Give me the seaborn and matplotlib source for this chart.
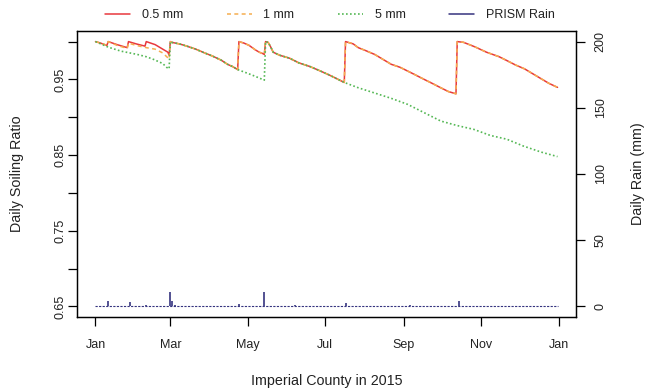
import matplotlib
matplotlib.use("Agg")
import matplotlib.pyplot as plt
import seaborn as sns
import numpy as np
import pandas as pd
from matplotlib.lines import Line2D

# ---------------- data (days since 2015-01-01) ----------------
days_05 = [0, 4, 9, 10, 17, 25, 26, 32, 39, 40, 47, 53, 57, 58,
           59, 60, 66, 72, 79, 86, 92, 99, 104, 108, 112,
           113, 117, 121, 126, 129, 132, 133,
           134, 136, 138, 140, 145, 153, 160, 169, 176, 184, 190, 196,
           197, 203, 207, 213, 220, 226, 233, 240, 246, 252, 259, 265, 272, 278, 284,
           285, 290, 299, 308, 318, 324, 331, 338, 344, 351, 357, 364]
ratio_05 = [1.000, 0.998, 0.995, 1.000, 0.996, 0.992, 1.000, 0.997, 0.994, 1.000, 0.996, 0.990, 0.986, 0.982,
            1.000, 0.999, 0.997, 0.994, 0.990, 0.985, 0.981, 0.9755, 0.970, 0.967, 0.963,
            1.000, 0.998, 0.995, 0.989, 0.986, 0.984, 0.983,
            1.000, 0.999, 0.993, 0.986, 0.982, 0.978, 0.972, 0.967, 0.962, 0.956, 0.951, 0.946,
            1.000, 0.997, 0.992, 0.988, 0.983, 0.977, 0.970, 0.966, 0.961, 0.956, 0.950, 0.945, 0.939, 0.934, 0.931,
            1.000, 0.999, 0.993, 0.986, 0.980, 0.975, 0.969, 0.964, 0.958, 0.951, 0.945, 0.9395]

days_1 = [0, 4, 9, 10, 17, 25, 26, 32, 40, 47, 53, 58,
          59, 60, 66, 72, 79, 86, 92, 99, 104, 108, 112,
          113, 117, 121, 126, 129, 132, 133,
          134, 136, 138, 140, 145, 153, 160, 169, 176, 184, 190, 196,
          197, 203, 207, 213, 220, 226, 233, 240, 246, 252, 259, 265, 272, 278, 284,
          285, 290, 299, 308, 318, 324, 331, 338, 344, 351, 357, 364]
ratio_1 = [1.000, 0.998, 0.995, 1.000, 0.995, 0.991, 0.998, 0.995, 0.992, 0.990, 0.985, 0.977,
           1.000, 0.999, 0.997, 0.994, 0.990, 0.985, 0.981, 0.9755, 0.970, 0.967, 0.963,
           1.000, 0.998, 0.995, 0.989, 0.986, 0.984, 0.983,
           1.000, 0.999, 0.993, 0.986, 0.982, 0.978, 0.972, 0.967, 0.962, 0.956, 0.951, 0.946,
           1.000, 0.997, 0.992, 0.988, 0.983, 0.977, 0.970, 0.966, 0.961, 0.956, 0.950, 0.945, 0.939, 0.934, 0.931,
           1.000, 0.999, 0.993, 0.986, 0.980, 0.975, 0.969, 0.964, 0.958, 0.951, 0.945, 0.9395]

days_5 = [0, 10, 20, 33, 40, 46, 53, 56, 58,
          59, 60, 66, 72, 79, 86, 92, 99, 104, 108, 112,
          120, 126, 133,
          134, 136, 138, 140, 145, 153, 160, 169, 176, 184, 190, 196,
          207, 220, 233, 246, 259, 272, 285, 298, 311, 324, 337, 351, 364]
ratio_5 = [1.000, 0.9927, 0.9874, 0.983, 0.980, 0.9763, 0.971, 0.966, 0.964,
           1.000, 0.999, 0.997, 0.994, 0.990, 0.985, 0.981, 0.9755, 0.970, 0.967, 0.963,
           0.958, 0.954, 0.949,
           1.000, 0.999, 0.993, 0.986, 0.982, 0.978, 0.972, 0.967, 0.962, 0.956, 0.951, 0.946,
           0.939, 0.932, 0.925, 0.917, 0.906, 0.895, 0.889, 0.884, 0.876, 0.871, 0.862, 0.854, 0.848]

rain_days = [10, 27, 40, 59, 60, 63, 113, 133, 157, 197, 248, 286]
rain_mm = [3.8, 3.0, 1.0, 10.6, 4.0, 1.0, 1.5, 10.6, 1.0, 2.5, 0.8, 3.8]

month_ticks = ["2015-01-01", "2015-03-01", "2015-05-01", "2015-07-01",
               "2015-09-01", "2015-11-01", "2016-01-01"]
month_labels = ["Jan", "Mar", "May", "Jul", "Sep", "Nov", "Jan"]
ratio_ticks = [0.65, 0.70, 0.75, 0.80, 0.85, 0.90, 0.95, 1.00]
ratio_labels = ["0.65", "", "0.75", "", "0.85", "", "0.95", ""]
rain_ticks = [0, 50, 100, 150, 200]

series_labels = ["0.5 mm", "1 mm", "5 mm", "PRISM Rain"]

# ---------------- style ----------------
sns.set_theme(style="ticks")
plt.rcParams["font.family"] = ["Liberation Sans", "DejaVu Sans"]
plt.rcParams["axes.edgecolor"] = "black"
plt.rcParams["axes.linewidth"] = 0.9

c_red = "#E8383D"
c_orange = "#F5AD4F"
c_green = "#55B855"
c_navy = "#35337F"

start = pd.Timestamp("2015-01-01")
def to_dates(d):
    return start + pd.to_timedelta(np.asarray(d), unit="D")

fig = plt.figure(figsize=(6.49, 3.9), dpi=100)
ax = fig.add_axes([77 / 649, 1 - 317 / 390, 499 / 649, 286 / 390])

df05 = pd.DataFrame({"date": to_dates(days_05), "ratio": ratio_05})
df1 = pd.DataFrame({"date": to_dates(days_1), "ratio": ratio_1})
df5 = pd.DataFrame({"date": to_dates(days_5), "ratio": ratio_5})

sns.lineplot(data=df05, x="date", y="ratio", ax=ax, color=c_red, lw=1.1,
             estimator=None, sort=False)
sns.lineplot(data=df1, x="date", y="ratio", ax=ax, color=c_orange, lw=1.1,
             linestyle=(0, (2.6, 2.2)), estimator=None, sort=False)
sns.lineplot(data=df5, x="date", y="ratio", ax=ax, color=c_green, lw=1.2,
             linestyle=(0, (1, 1.4)), estimator=None, sort=False)

ax.set_xlim(start - pd.Timedelta(days=14.56), start + pd.Timedelta(days=364 + 14.56))
ax.set_ylim(0.636, 1.014)
ax.set_xticks(pd.to_datetime(month_ticks))
ax.set_xticklabels(month_labels)
ax.set_yticks(ratio_ticks)
ax.set_yticklabels(ratio_labels, rotation=90, va="center")
ax.tick_params(axis="x", length=6.5, width=0.9, pad=9, labelsize=9, colors="black", labelcolor="#222222")
ax.tick_params(axis="y", length=6.5, width=0.9, pad=1, labelsize=9, colors="black", labelcolor="#222222")
ax.set_xlabel("Imperial County in 2015", fontsize=10.3, color="#222222")
ax.set_ylabel("Daily Soiling Ratio", fontsize=10.3, color="#222222")
ax.xaxis.set_label_coords(0.5, -0.2)
ax.yaxis.set_label_coords(-0.106, 0.5)
for s in ax.spines.values():
    s.set_visible(True)
    s.set_color("black")

# rain on secondary axis
ax2 = ax.twinx()
all_days = np.arange(365)
rain_daily = np.zeros(365)
rain_daily[rain_days] = rain_mm
all_dates = to_dates(all_days)
dry = rain_daily == 0
sns.lineplot(x=all_dates[dry], y=rain_daily[dry], ax=ax2, color=c_navy, lw=0.8,
             linestyle=(0, (2, 1.2)), estimator=None, sort=False)
ax2.vlines(to_dates(rain_days), 0, rain_mm, color=c_navy, lw=1.2)
ax2.set_ylim(-8, 208)
ax2.set_xlim(ax.get_xlim())
ax2.set_yticks(rain_ticks)
ax2.set_yticklabels([str(t) for t in rain_ticks], rotation=90, va="center")
ax2.tick_params(axis="y", length=6.5, width=0.9, pad=7, labelsize=9, colors="black", labelcolor="#222222")
ax2.set_ylabel("Daily Rain (mm)", fontsize=10.3, color="#222222", rotation=90)
ax2.yaxis.set_label_coords(1.111, 0.5)
for s in ax2.spines.values():
    s.set_visible(True)
    s.set_color("black")

handles = [Line2D([], [], color=c_red, lw=1.1),
           Line2D([], [], color=c_orange, lw=1.1, linestyle=(0, (2.6, 2.2))),
           Line2D([], [], color=c_green, lw=1.2, linestyle=(0, (1, 1.4))),
           Line2D([], [], color=c_navy, lw=1.1)]
fig.legend(handles, series_labels, loc="center", bbox_to_anchor=(0.5085, 1 - 15 / 390),
           ncol=4, frameon=False, fontsize=9, handlelength=2.0, handletextpad=0.93,
           columnspacing=3.5, labelcolor="#222222")

fig.savefig("out.png", dpi=100)
